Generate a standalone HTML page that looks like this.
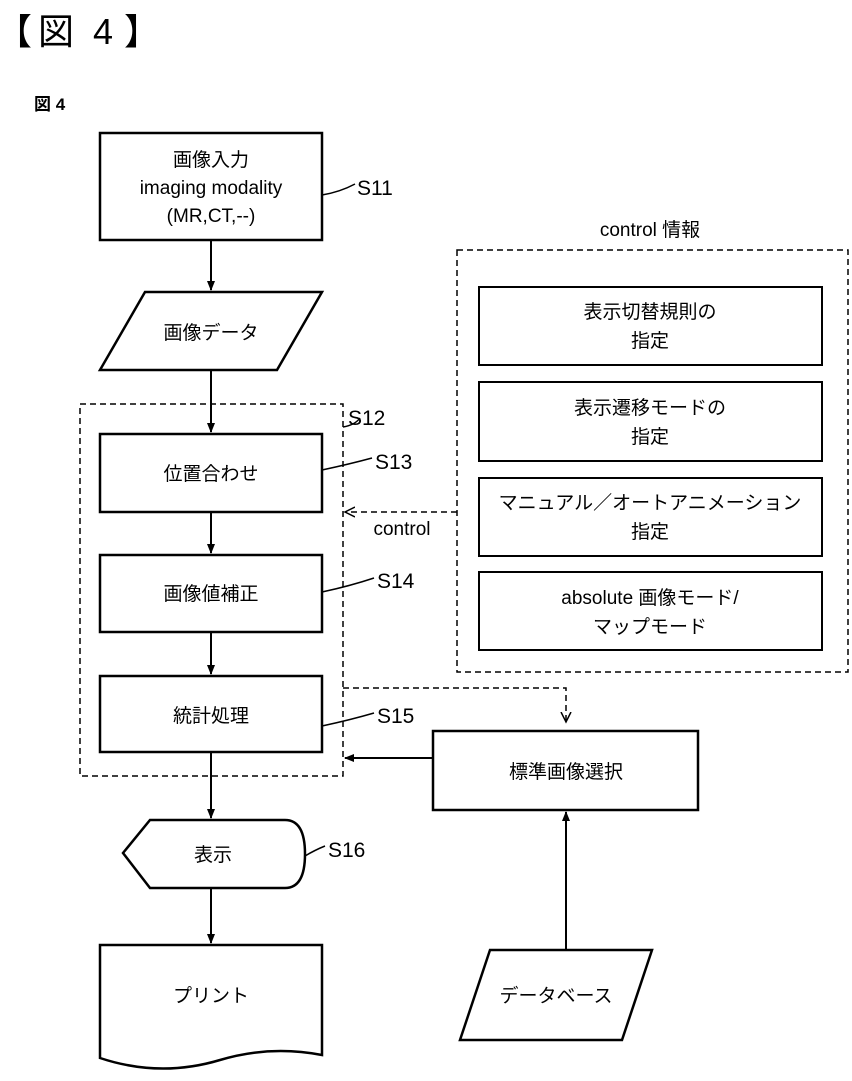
<!DOCTYPE html>
<html><head><meta charset="utf-8"><style>
html,body{margin:0;padding:0;background:#fff;}
svg{display:block;}
text{font-family:"Liberation Sans","Noto Sans CJK JP",sans-serif;fill:#000;}
</style></head><body>
<svg width="852" height="1081" viewBox="0 0 852 1081" xmlns="http://www.w3.org/2000/svg">
<defs>
<marker id="a" markerWidth="10" markerHeight="10" refX="9" refY="5" orient="auto" markerUnits="userSpaceOnUse">
<path d="M0,1 L10,5 L0,9 z" fill="#000"/></marker>
<marker id="o" markerWidth="12" markerHeight="12" refX="10" refY="6" orient="auto" markerUnits="userSpaceOnUse">
<path d="M0,1 L10,6 L0,11" fill="none" stroke="#000" stroke-width="1.5"/></marker>
</defs>
<text x="-4" y="44" font-size="36">【</text>
<text x="38" y="44" font-size="36">図</text>
<text x="93" y="44" font-size="36">4</text>
<text x="124" y="44" font-size="36">】</text>
<text x="34" y="110" font-size="17" font-weight="bold">図 4</text>

<g fill="none" stroke="#000" stroke-width="2.5">
<rect x="100" y="133" width="222" height="107"/>
<polygon points="145,292 322,292 277,370 100,370"/>
<rect x="100" y="434" width="222" height="78"/>
<rect x="100" y="555" width="222" height="77"/>
<rect x="100" y="676" width="222" height="76"/>
<path d="M123,853 L150,820 L285,820 Q305,820 305,854 Q305,888 285,888 L150,888 Z"/>
<path d="M100,945 L322,945 L322,1055 Q270,1045 220,1060 Q160,1078 100,1058 Z"/>
<rect x="479" y="287" width="343" height="78" stroke-width="2"/>
<rect x="479" y="382" width="343" height="79" stroke-width="2"/>
<rect x="479" y="478" width="343" height="78" stroke-width="2"/>
<rect x="479" y="572" width="343" height="78" stroke-width="2"/>
<rect x="433" y="731" width="265" height="79"/>
<polygon points="490,950 652,950 622,1040 460,1040"/>
</g>
<g fill="none" stroke="#000" stroke-width="1.5" stroke-dasharray="6,4">
<rect x="80" y="404" width="263" height="372"/>
<rect x="457" y="250" width="391" height="422"/>
<line x1="457" y1="512" x2="345" y2="512" marker-end="url(#o)"/>
<polyline points="343,688 566,688 566,722" marker-end="url(#o)"/>
</g>
<g stroke="#000" stroke-width="2" fill="none">
<line x1="211" y1="240" x2="211" y2="290" marker-end="url(#a)"/>
<line x1="211" y1="370" x2="211" y2="432" marker-end="url(#a)"/>
<line x1="211" y1="512" x2="211" y2="553" marker-end="url(#a)"/>
<line x1="211" y1="632" x2="211" y2="674" marker-end="url(#a)"/>
<line x1="211" y1="752" x2="211" y2="818" marker-end="url(#a)"/>
<line x1="211" y1="888" x2="211" y2="943" marker-end="url(#a)"/>
<line x1="433" y1="758" x2="345" y2="758" marker-end="url(#a)"/>
<line x1="566" y1="950" x2="566" y2="812" marker-end="url(#a)"/>
<g stroke-width="1.5">
<path d="M322,195 Q340,192 355,184"/>
<path d="M343,427 Q355,425 360,418"/>
<path d="M322,470 Q350,464 372,458"/>
<path d="M322,592 Q350,586 374,578"/>
<path d="M322,726 Q350,720 374,713"/>
<path d="M305,856 Q315,850 325,846"/>
</g>
</g>
<g font-size="19" text-anchor="middle">
<text x="211" y="166">画像入力</text>
<text x="211" y="194">imaging modality</text>
<text x="211" y="222">(MR,CT,--)</text>
<text x="211" y="339">画像データ</text>
<text x="211" y="480">位置合わせ</text>
<text x="211" y="600">画像値補正</text>
<text x="211" y="722">統計処理</text>
<text x="213" y="861">表示</text>
<text x="211" y="1002">プリント</text>
<text x="650" y="318">表示切替規則の</text>
<text x="650" y="347">指定</text>
<text x="650" y="414">表示遷移モードの</text>
<text x="650" y="443">指定</text>
<text x="650" y="509">マニュアル／オートアニメーション</text>
<text x="650" y="538">指定</text>
<text x="650" y="604">absolute 画像モード/</text>
<text x="650" y="633">マップモード</text>
<text x="566" y="778">標準画像選択</text>
<text x="556" y="1002">データベース</text>
<text x="650" y="236">control 情報</text>
<text x="402" y="535">control</text>
</g>
<g font-size="21">
<text x="357" y="195">S11</text>
<text x="348" y="425">S12</text>
<text x="375" y="469">S13</text>
<text x="377" y="588">S14</text>
<text x="377" y="723">S15</text>
<text x="328" y="857">S16</text>
</g>
</svg>
</body></html>
